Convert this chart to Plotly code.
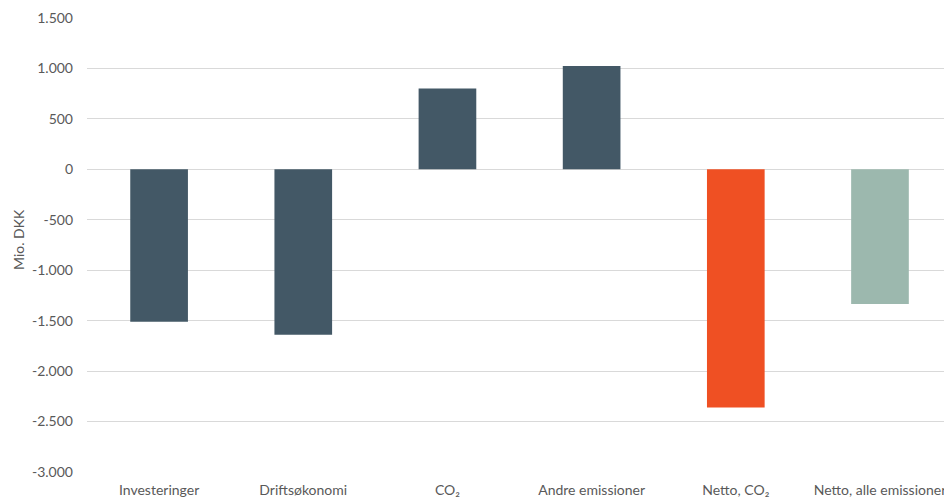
import plotly.graph_objects as go

categories = ["Investeringer", "Driftsøkonomi", "CO₂", "Andre emissioner", "Netto, CO₂", "Netto, alle emissioner"]
values = [-1510, -1640, 800, 1025, -2360, -1335]
bar_colors = ["#435866", "#435866", "#435866", "#435866", "#EF5023", "#9CB8AE"]

y_tickvals = [1500, 1000, 500, 0, -500, -1000, -1500, -2000, -2500, -3000]
y_ticktext = ["1.500", "1.000", "500", "0", "-500", "-1.000", "-1.500", "-2.000", "-2.500", "-3.000"]
y_title = "Mio. DKK"

font_family = "Lato, 'Noto Sans', sans-serif"
text_color = "#595959"

fig = go.Figure()
fig.add_trace(go.Bar(
    x=list(range(len(categories))),
    y=values,
    marker=dict(color=bar_colors, line=dict(width=0)),
    hoverinfo="skip",
))

fig.update_layout(
    width=944,
    height=498,
    margin=dict(l=87, r=0, t=18, b=26),
    paper_bgcolor="white",
    plot_bgcolor="white",
    bargap=0.6,
    showlegend=False,
    font=dict(family=font_family, size=14, color=text_color),
    xaxis=dict(
        tickmode="array",
        tickvals=list(range(len(categories))),
        ticktext=categories,
        range=[-0.5, 5.444],
        showgrid=False,
        zeroline=False,
        showline=False,
        ticks="",
        automargin=False,
        ticklabeloverflow="allow",
        ticklabelstandoff=8,
        tickfont=dict(family=font_family, size=14, color=text_color),
    ),
    yaxis=dict(
        range=[-3000, 1500],
        tickmode="array",
        tickvals=y_tickvals,
        ticktext=y_ticktext,
        showgrid=True,
        gridcolor="#D9D9D9",
        gridwidth=1,
        zeroline=True,
        zerolinecolor="#D9D9D9",
        zerolinewidth=1,
        showline=False,
        ticks="",
        ticklabelstandoff=13,
        automargin=False,
        tickfont=dict(family=font_family, size=14, color=text_color),
    ),
    annotations=[dict(
        text=y_title,
        xref="paper", yref="paper",
        x=-0.0805, y=0.511,
        xanchor="center", yanchor="middle",
        textangle=-90,
        showarrow=False,
        font=dict(family=font_family, size=14, color=text_color),
    )],
)

fig.write_html(
    "out.html",
    config={"displayModeBar": False, "staticPlot": True},
    post_script="document.body.style.margin='0';document.body.style.overflow='hidden';",
)
